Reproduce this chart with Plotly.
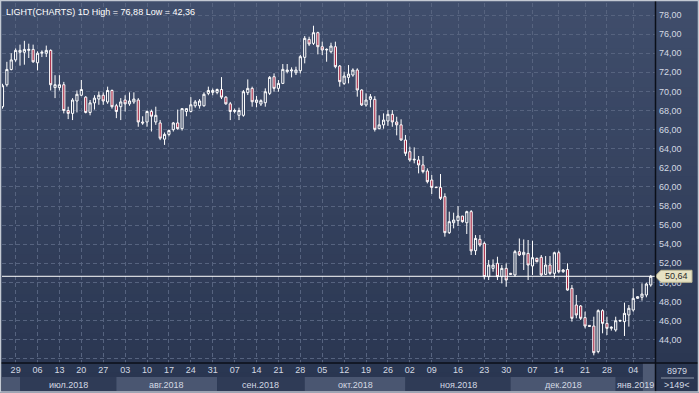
import plotly.graph_objects as go

# ---------------- data ----------------
opens = [68.4, 70.7, 72.3, 73.3, 74.1, 74.1, 74.3, 74.4, 73.0, 74.0,
         74.0, 74.3, 70.4, 70.4, 70.7, 68.0, 67.7, 69.0, 69.6, 69.4,
         67.8, 68.8, 69.2, 69.6, 68.9, 70.1, 68.5, 68.4, 69.1, 68.7,
         68.9, 69.1, 66.8, 66.8, 67.9, 66.8, 66.7, 65.0, 65.5, 66.0,
         66.7, 66.1, 67.9, 67.9, 68.5, 68.5, 68.5, 69.8, 69.9, 69.9,
         70.2, 69.4, 68.7, 67.9, 67.5, 67.5, 69.87, 70.32, 68.85, 68.68,
         68.82, 69.8, 71.54, 70.32, 70.84, 72.07, 72.14, 71.96, 72.17, 73.57,
         75.45, 75.03, 76.15, 74.68, 74.34, 74.16, 74.68, 72.66, 70.84, 71.47,
         71.72, 72.24, 70.15, 68.58, 69.17, 69.17, 66.1, 66.5, 66.9, 67.6,
         66.8, 66.5, 64.91, 63.69, 62.82, 62.82, 62.3, 61.67, 60.72, 59.98,
         59.95, 58.98, 55.21, 56.25, 56.47, 56.95, 56.25, 57.41, 53.32, 54.51,
         54.09, 50.6, 51.47, 52.0, 50.6, 51.47, 50.95, 50.78, 53.22, 52.9,
         53.04, 51.72, 52.52, 52.63, 50.84, 51.82, 50.95, 53.11, 51.12, 51.35,
         49.38, 47.63, 47.53, 46.31, 45.5, 45.43, 42.75, 47.04, 45.71, 45.2,
         45.02, 45.95, 45.89, 46.59, 47.11, 48.33, 48.44, 48.68, 49.73]
highs = [70.8, 73.1, 74.0, 74.5, 74.9, 75.3, 75.0, 74.9, 74.2, 74.3,
         74.8, 74.4, 71.7, 71.7, 71.0, 68.4, 69.3, 70.1, 71.2, 69.5,
         69.1, 69.6, 70.0, 69.9, 70.5, 70.2, 68.7, 69.3, 69.6, 69.9,
         69.9, 69.3, 67.4, 68.0, 68.1, 68.4, 67.0, 65.7, 66.0, 66.8,
         68.1, 68.2, 68.2, 69.4, 69.1, 69.2, 69.9, 70.5, 70.3, 70.3,
         71.5, 69.5, 68.9, 68.2, 68.3, 70.15, 71.26, 70.5, 69.52, 69.17,
         70.32, 71.61, 71.89, 71.19, 72.87, 72.87, 72.52, 72.59, 73.81, 75.8,
         75.73, 76.88, 76.25, 75.21, 74.51, 75.1, 75.21, 72.76, 72.07, 72.76,
         72.42, 72.42, 70.22, 69.8, 69.73, 69.5, 67.5, 67.7, 68.05, 68.05,
         67.35, 67.08, 65.44, 64.21, 64.14, 63.24, 63.24, 61.94, 61.25, 60.0,
         61.35, 59.33, 57.41, 57.3, 57.99, 56.95, 57.51, 57.58, 54.96, 54.96,
         54.27, 52.35, 52.41, 52.69, 51.82, 52.0, 51.0, 53.4, 54.6, 54.5,
         54.44, 54.37, 52.6, 52.87, 52.76, 52.76, 53.22, 53.32, 51.4, 52.0,
         49.73, 48.68, 47.63, 46.94, 45.5, 46.41, 47.18, 47.18, 46.41, 45.4,
         46.41, 46.1, 47.88, 47.63, 49.38, 48.55, 49.9, 49.97, 50.78]
lows = [68.2, 70.5, 72.2, 73.1, 72.7, 72.8, 73.5, 73.0, 72.2, 73.6,
        73.6, 70.1, 69.3, 70.1, 67.7, 67.1, 67.0, 67.8, 69.5, 67.7,
        67.5, 68.1, 68.6, 68.6, 68.7, 68.2, 67.2, 67.0, 67.9, 68.5,
        68.7, 66.3, 66.5, 66.3, 65.8, 66.5, 64.9, 64.4, 65.3, 65.8,
        66.0, 65.9, 67.4, 67.8, 68.3, 68.2, 68.4, 69.6, 69.6, 69.7,
        69.2, 68.6, 67.0, 67.7, 67.0, 67.35, 69.62, 68.4, 68.33, 68.48,
        68.4, 69.62, 69.97, 69.97, 70.77, 71.89, 71.47, 71.72, 71.89, 72.94,
        74.75, 74.86, 73.88, 73.81, 73.11, 73.99, 72.42, 70.5, 70.67, 70.84,
        71.54, 69.45, 68.48, 68.4, 68.33, 65.8, 66.03, 66.1, 66.4, 66.3,
        65.4, 64.84, 63.24, 62.64, 62.47, 61.42, 61.42, 60.37, 59.26, 59.9,
        58.63, 54.79, 55.07, 55.66, 55.91, 56.25, 55.07, 52.87, 52.87, 53.74,
        50.32, 50.25, 51.12, 50.25, 49.9, 49.55, 50.8, 50.6, 52.76, 51.3,
        50.25, 50.78, 52.1, 50.67, 50.78, 50.78, 50.43, 50.95, 51.0, 49.13,
        45.89, 46.24, 46.06, 45.19, 45.37, 42.36, 42.57, 44.67, 44.49, 44.95,
        44.84, 45.9, 44.39, 45.37, 46.94, 48.3, 48.09, 48.44, 49.55]
closes = [70.6, 72.3, 73.3, 74.3, 74.3, 74.4, 74.4, 73.1, 74.0, 74.1,
          74.3, 70.7, 70.7, 70.7, 68.0, 67.7, 69.1, 69.7, 70.2, 67.8,
          68.8, 69.3, 69.6, 69.0, 70.1, 68.4, 67.9, 68.9, 68.7, 69.0,
          69.2, 66.8, 66.7, 67.9, 67.4, 67.5, 65.1, 65.5, 65.9, 66.7,
          66.1, 68.2, 68.2, 68.6, 68.9, 69.0, 69.7, 70.1, 70.1, 70.2,
          69.4, 68.7, 67.9, 68.0, 68.0, 69.97, 70.32, 68.92, 69.1, 69.03,
          69.97, 71.47, 70.32, 70.84, 72.31, 72.24, 72.24, 72.24, 73.64, 75.56,
          74.96, 76.15, 74.68, 74.34, 74.4, 74.75, 72.59, 71.02, 71.61, 71.82,
          72.24, 70.15, 68.58, 69.1, 69.45, 66.03, 66.5, 67.0, 67.6, 66.8,
          66.5, 64.91, 63.52, 62.82, 62.89, 62.3, 61.6, 60.55, 59.95, 59.93,
          58.8, 55.21, 56.36, 56.53, 56.95, 56.36, 57.41, 53.3, 54.61, 53.92,
          50.6, 51.82, 51.82, 50.6, 51.47, 50.25, 50.85, 53.22, 52.87, 53.15,
          51.82, 52.59, 52.17, 50.78, 51.82, 50.95, 53.11, 51.12, 51.3, 49.2,
          46.24, 46.59, 46.24, 45.43, 45.4, 42.64, 47.04, 45.71, 45.19, 45.3,
          45.99, 46.0, 46.76, 47.29, 48.33, 48.5, 48.78, 49.83, 50.64]

week_idx = [3, 8, 13, 18, 23, 28, 33, 38, 43, 48, 53, 58, 63, 68, 73, 78, 83, 88,
            93, 98, 104, 110, 115, 121, 127, 133, 138, 144]
week_lbl = ['29', '06', '13', '20', '27', '03', '10', '17', '24', '31', '07', '14',
            '21', '28', '05', '12', '19', '26', '02', '09', '16', '23', '30', '07',
            '14', '21', '28', '04']
month_start = [4, 26, 49, 69, 92, 116, 140]
month_lbl = ['июл.2018', 'авг.2018', 'сен.2018', 'окт.2018', 'ноя.2018', 'дек.2018', 'янв.2019']
price_ticks = [42, 44, 46, 48, 50, 52, 54, 56, 58, 60, 62, 64, 66, 68, 70, 72, 74, 76, 78]
last_price = 50.64
title_text = 'LIGHT(CHARTS) 1D High = 76,88 Low = 42,36'
bars_total = '>149<'
volume_text = '8979'

# ---------------- geometry ----------------
W, H = 699, 393
L_M, R_M, T_M, B_M = 2, 44, 3, 30
PW, PH = W - L_M - R_M, H - T_M - B_M
XR = [-0.11, 148.97]
YR = [41.56, 79.26]
FONT = 'Liberation Sans'
TXT = '#d3d9e3'


def xp(px):
    return (px - L_M) / PW


def yp(py):
    return (H - B_M - py) / PH


def mix(c1, c2, t):
    return 'rgb(%d,%d,%d)' % tuple(round(a + (b - a) * t) for a, b in zip(c1, c2))


idx = list(range(len(opens)))

fig = go.Figure(go.Candlestick(
    x=idx, open=opens, high=highs, low=lows, close=closes,
    increasing=dict(line=dict(color='#ffffff', width=1), fillcolor='#35425f'),
    decreasing=dict(line=dict(color='#ffffff', width=1), fillcolor='#a5233f'),
    whiskerwidth=0, showlegend=False, hoverinfo='skip'))

shapes = []
# background gradient
top_c, bot_c = (64, 78, 108), (41, 53, 80)
N = 40
for k in range(N):
    y0 = H * k / N
    y1 = H * (k + 1) / N
    shapes.append(dict(type='rect', xref='paper', yref='paper', layer='below',
                       x0=xp(0), x1=xp(W), y0=yp(y1), y1=yp(y0) + 0.002,
                       line=dict(width=0), fillcolor=mix(top_c, bot_c, (k + 0.5) / N)))

# month band row
bounds = [XR[0]] + month_start + [XR[1]]
for j in range(len(bounds) - 1):
    a, b = max(bounds[j], XR[0]), min(bounds[j + 1], XR[1])
    col = '#4a5671' if j % 2 == 0 else '#2f3b56'
    shapes.append(dict(type='rect', xref='x', yref='paper', layer='below',
                       x0=a, x1=b, y0=yp(391), y1=yp(377),
                       line=dict(width=0), fillcolor=col))
# highlighted last column in date area
shapes.append(dict(type='rect', xref='x', yref='paper', layer='below',
                   x0=146.2, x1=XR[1], y0=yp(391), y1=yp(363),
                   line=dict(width=0), fillcolor='#4e5a74'))

# last price line
shapes.append(dict(type='line', xref='paper', yref='y', layer='above',
                   x0=0, x1=1, y0=last_price, y1=last_price,
                   line=dict(color='#ffffff', width=1)))
# price tag
dy = 6 / (PH / (YR[1] - YR[0]))
tag = 'M %f,%f L %f,%f L %f,%f L %f,%f L %f,%f Z' % (
    xp(655), last_price, xp(661), last_price + dy, xp(692), last_price + dy,
    xp(692), last_price - dy, xp(661), last_price - dy)
shapes.append(dict(type='path', xref='paper', yref='y', layer='above', path=tag,
                   line=dict(color='#bdb895', width=1), fillcolor='#e6e2c4'))

# black separators
shapes.append(dict(type='line', xref='paper', yref='paper', layer='above',
                   x0=xp(655.5), x1=xp(655.5), y0=yp(H), y1=yp(0),
                   line=dict(color='#0b0f18', width=1.5)))
shapes.append(dict(type='line', xref='paper', yref='paper', layer='above',
                   x0=xp(0), x1=xp(W), y0=yp(363), y1=yp(363),
                   line=dict(color='#0b0f18', width=1.5)))
# divider in bottom-right box
shapes.append(dict(type='line', xref='paper', yref='paper', layer='above',
                   x0=xp(661), x1=xp(694), y0=yp(378), y1=yp(378),
                   line=dict(color='#8f99ab', width=1)))
# outer light border
shapes.append(dict(type='rect', xref='paper', yref='paper', layer='above',
                   x0=xp(0.5), x1=xp(W - 0.5), y0=yp(H - 1), y1=yp(0.5),
                   line=dict(color='#c3c9d3', width=1.5), fillcolor='rgba(0,0,0,0)'))

ann = []
ann.append(dict(text=title_text, xref='paper', yref='paper', x=xp(4), y=yp(12),
                xanchor='left', yanchor='middle', showarrow=False,
                font=dict(family=FONT, size=9, color='#ffffff')))
for j, name in enumerate(month_lbl):
    a, b = max(bounds[j + 1], XR[0]), min(bounds[j + 2], XR[1])
    if j == len(month_lbl) - 1:
        ann.append(dict(text=name, xref='paper', yref='paper', x=xp(656), y=yp(384.5),
                        xanchor='right', yanchor='middle', showarrow=False,
                        font=dict(family=FONT, size=9, color=TXT)))
    else:
        ann.append(dict(text=name, xref='x', yref='paper', x=(a + b) / 2, y=yp(384.5),
                        xanchor='center', yanchor='middle', showarrow=False,
                        font=dict(family=FONT, size=9, color=TXT)))
ann.append(dict(text=volume_text, xref='paper', yref='paper', x=xp(677), y=yp(371.5),
                xanchor='center', yanchor='middle', showarrow=False,
                font=dict(family=FONT, size=9, color=TXT)))
ann.append(dict(text=bars_total, xref='paper', yref='paper', x=xp(677), y=yp(385),
                xanchor='center', yanchor='middle', showarrow=False,
                font=dict(family=FONT, size=9, color=TXT)))
ann.append(dict(text=('%.2f' % last_price).replace('.', ','), xref='paper', yref='y',
                x=xp(676), y=last_price, xanchor='center', yanchor='middle',
                showarrow=False, font=dict(family=FONT, size=9, color='#2b2b2b')))

ytxt = [('%.2f' % v).replace('.', ',') if v >= 44 else '' for v in price_ticks]

fig.update_layout(
    width=W, height=H,
    margin=dict(l=L_M, r=R_M, t=T_M, b=B_M, pad=0, autoexpand=False),
    paper_bgcolor='#34415e', plot_bgcolor='rgba(0,0,0,0)',
    shapes=shapes, annotations=ann,
    xaxis=dict(range=XR, rangeslider=dict(visible=False), tickmode='array',
               tickvals=week_idx, ticktext=week_lbl, showgrid=True,
               gridcolor='#56637f', gridwidth=1, griddash='4px,3px',
               ticks='', showline=False, zeroline=False, automargin=False,
               tickfont=dict(family=FONT, size=9, color=TXT)),
    yaxis=dict(range=YR, side='right', tickmode='array', tickvals=price_ticks,
               ticktext=ytxt, showgrid=True, gridcolor='#56637f', gridwidth=1,
               griddash='4px,3px', ticks='', showline=False, zeroline=False,
               ticklabelstandoff=3, automargin=False,
               tickfont=dict(family=FONT, size=9, color=TXT)),
)

fig.write_html('out.html', config={'displayModeBar': False},
               post_script="document.body.style.margin='0';document.body.style.overflow='hidden';")
